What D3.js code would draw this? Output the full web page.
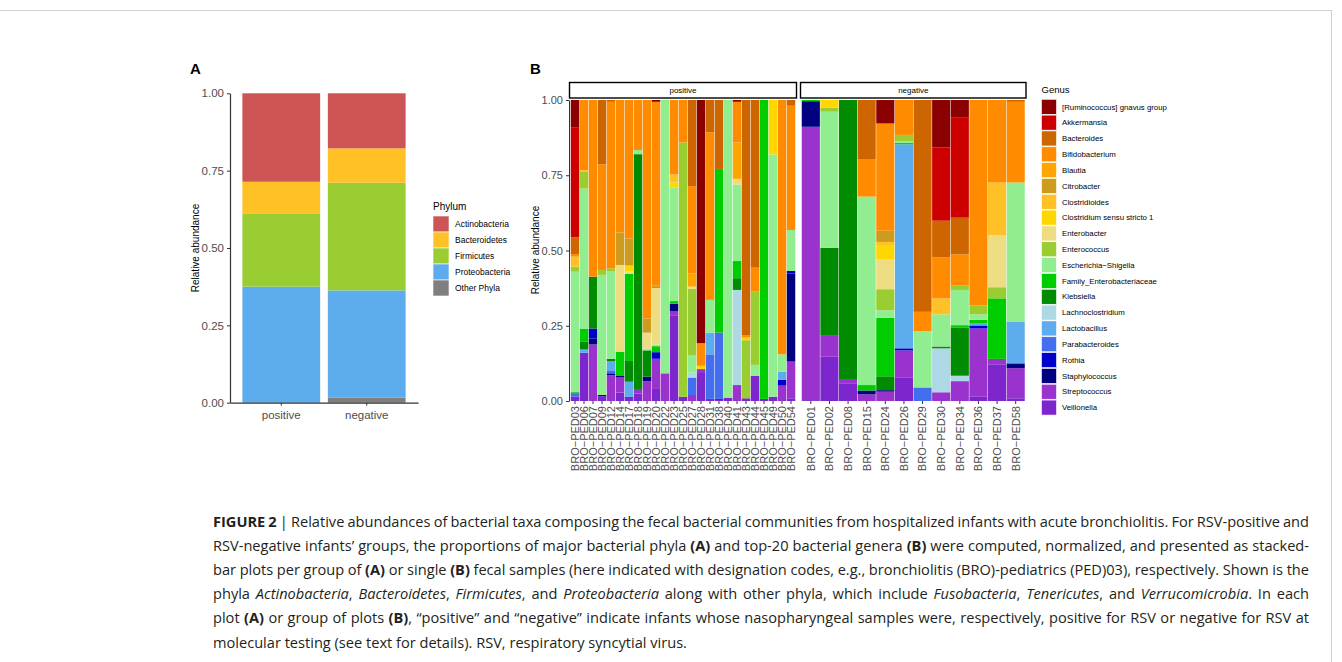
<!DOCTYPE html>
<html lang="en">
<head>
<meta charset="UTF-8">
<title>Figure 2 - fecal bacterial communities</title>
<script src="https://d3js.org/d3.v7.min.js"></script>
<style>
  body { margin: 0; background: #fff; }
  svg { display: block; }
  .axis text { font-family: "Liberation Sans", Arial, sans-serif; fill: #4d4d4d; }
  .axis path, .axis line { stroke: #333; }
</style>
</head>
<body>
<svg id="fig" width="1342" height="662"></svg>
<script>
// ---- panel A data: phylum proportions per group ----
const groups = ["positive", "negative"];
const phyla = ["Actinobacteria", "Bacteroidetes", "Firmicutes", "Proteobacteria", "Other Phyla"];
const phylumColors = ["#CD5555", "#FFC125", "#9ACD32", "#5CACEE", "#7F7F7F"];
const phylumPositive = [0.286, 0.102, 0.237, 0.375, 0.0];
const phylumNegative = [0.178, 0.111, 0.348, 0.347, 0.016];

// ---- panel B data: top-20 genera per sample ----
const genera = ["[Ruminococcus] gnavus group", "Akkermansia", "Bacteroides", "Bifidobacterium", "Blautia",
  "Citrobacter", "Clostridioides", "Clostridium sensu stricto 1", "Enterobacter", "Enterococcus",
  "Escherichia\u2212Shigella", "Family_Enterobacteriaceae", "Klebsiella", "Lachnoclostridium", "Lactobacillus",
  "Parabacteroides", "Rothia", "Staphylococcus", "Streptococcus", "Veillonella"];
const genusKeys = ["Rum", "Akk", "Bac", "Bif", "Bla", "Cit", "Cld", "Css", "Ebt", "Ecc",
  "Esh", "Fam", "Kle", "Lcl", "Lcb", "Par", "Rot", "Sta", "Str", "Vei"];
const genusColors = ["#8B0000", "#CD0000", "#CD6600", "#FF8C00", "#FFA500",
  "#CD9B1D", "#FFC125", "#FFD700", "#EEDC82", "#9ACD32",
  "#90EE90", "#00CD00", "#008B00", "#ADD8E6", "#5CACEE",
  "#436EEE", "#0000CD", "#000080", "#9A32CD", "#7D26CD"];

const positiveSamples = ["PED03", "PED06", "PED07", "PED09", "PED12", "PED14", "PED17", "PED18", "PED19",
  "PED20", "PED22", "PED23", "PED25", "PED27", "PED28", "PED31", "PED38", "PED40", "PED41", "PED43",
  "PED44", "PED45", "PED49", "PED50", "PED54"];
const negativeSamples = ["PED01", "PED02", "PED08", "PED15", "PED24", "PED26", "PED29", "PED30",
  "PED34", "PED36", "PED37", "PED58"];

const positiveAbund = [
  {Rum: .092, Akk: .364, Bac: .055, Bif: .009, Cld: .033, Ecc: .017, Esh: .40, Kle: .003, Par: .012, Vei: .014},
  {Bif: .233, Cld: .006, Ecc: .055, Esh: .466, Fam: .041, Kle: .027, Lcb: .011, Vei: .16},
  {Bif: .587, Kle: .172, Rot: .033, Sta: .02, Str: .188},
  {Bac: .214, Bif: .351, Ecc: .016, Esh: .399, Rot: .005, Vei: .015},
  {Bac: .006, Bif: .553, Ecc: .011, Esh: .29, Kle: .008, Lcb: .03, Par: .01, Sta: .006, Str: .086},
  {Bif: .44, Cit: .108, Ebt: .288, Fam: .081, Sta: .005, Str: .05, Vei: .028},
  {Bif: .46, Cit: .09, Css: .02, Ebt: .008, Fam: .289, Kle: .069, Lcb: .05, Rot: .003, Vei: .011},
  {Bif: .166, Esh: .014, Kle: .783, Str: .012, Vei: .025},
  {Bif: .725, Cit: .047, Ebt: .053, Esh: .006, Kle: .087, Sta: .015, Str: .066},
  {Rum: .006, Bif: .609, Cit: .009, Ebt: .188, Esh: .005, Fam: .02, Rot: .022, Str: .10, Vei: .04},
  {Esh: .908, Str: .092},
  {Bif: .247, Cld: .027, Css: .017, Esh: .377, Fam: .009, Sta: .024, Str: .014, Vei: .285},
  {Bif: .141, Ecc: .845, Vei: .014},
  {Bac: .286, Bif: .29, Bla: .044, Ebt: .008, Ecc: .221, Esh: .057, Lcl: .016, Par: .058, Str: .02},
  {Rum: .808, Bif: .075, Css: .011, Str: .01, Vei: .096},
  {Bac: .107, Bif: .557, Esh: .109, Lcb: .072, Par: .148, Vei: .007},
  {Bac: .229, Fam: .544, Par: .22, Rot: .003, Vei: .004},
  {Esh: .989, Vei: .011},
  {Rum: .006, Bif: .135, Bla: .121, Ebt: .02, Esh: .253, Fam: .057, Kle: .039, Lcl: .316, Str: .053},
  {Bac: .781, Bif: .008, Css: .009, Ecc: .193, Vei: .009},
  {Bac: .557, Bif: .078, Ecc: .245, Esh: .036, Vei: .084},
  {Fam: .993, Vei: .007},
  {Css: .181, Esh: .805, Vei: .014},
  {Bif: .845, Esh: .058, Lcb: .027, Rot: .019, Str: .051},
  {Bac: .019, Bif: .413, Esh: .136, Rot: .008, Sta: .293, Str: .122, Vei: .009}
];
const negativeAbund = [
  {Fam: .004, Sta: .085, Str: .908, Vei: .003},
  {Css: .025, Ecc: .014, Esh: .452, Kle: .29, Str: .072, Vei: .147},
  {Kle: .927, Str: .014, Vei: .059},
  {Bac: .196, Bif: .125, Esh: .626, Fam: .018, Sta: .013, Str: .022},
  {Rum: .078, Bif: .356, Cit: .037, Cld: .013, Css: .044, Ebt: .10, Ecc: .07, Esh: .025, Fam: .194, Kle: .046, Sta: .005, Str: .031},
  {Bif: .116, Ecc: .02, Esh: .007, Fam: .004, Lcb: .678, Rot: .007, Str: .091, Vei: .077},
  {Bac: .703, Bif: .064, Esh: .187, Par: .045},
  {Rum: .158, Akk: .243, Bac: .122, Bif: .136, Cld: .053, Esh: .107, Kle: .006, Lcl: .146, Str: .029},
  {Rum: .059, Akk: .332, Bac: .122, Bif: .104, Ecc: .014, Esh: .117, Fam: .009, Kle: .159, Lcl: .018, Str: .066},
  {Bif: .683, Ecc: .029, Esh: .018, Fam: .013, Lcb: .006, Rot: .01, Str: .227, Vei: .014},
  {Bif: .274, Cld: .175, Ebt: .173, Ecc: .037, Fam: .201, Str: .018, Vei: .122},
  {Bac: .006, Bif: .268, Esh: .462, Lcb: .139, Sta: .016, Str: .10, Vei: .009}
];

// caption lines (b = bold, i = italic)
const caption = [
  [["FIGURE 2", "b"], [" | Relative abundances of bacterial taxa composing the fecal bacterial communities from hospitalized infants with acute bronchiolitis. For RSV-positive and", ""]],
  [["RSV-negative infants\u2019 groups, the proportions of major bacterial phyla ", ""], ["(A)", "b"], [" and top-20 bacterial genera ", ""], ["(B)", "b"], [" were computed, normalized, and presented as stacked-", ""]],
  [["bar plots per group of ", ""], ["(A)", "b"], [" or single ", ""], ["(B)", "b"], [" fecal samples (here indicated with designation codes, e.g., bronchiolitis (BRO)-pediatrics (PED)03), respectively. Shown is the", ""]],
  [["phyla ", ""], ["Actinobacteria", "i"], [", ", ""], ["Bacteroidetes", "i"], [", ", ""], ["Firmicutes", "i"], [", and ", ""], ["Proteobacteria", "i"], [" along with other phyla, which include ", ""], ["Fusobacteria", "i"], [", ", ""], ["Tenericutes", "i"], [", and ", ""], ["Verrucomicrobia", "i"], [". In each", ""]],
  [["plot ", ""], ["(A)", "b"], [" or group of plots ", ""], ["(B)", "b"], [", \u201cpositive\u201d and \u201cnegative\u201d indicate infants whose nasopharyngeal samples were, respectively, positive for RSV or negative for RSV at", ""]],
  [["molecular testing (see text for details). RSV, respiratory syncytial virus.", ""]]
];

const svg = d3.select("#fig");
const font = "'Liberation Sans', Arial, sans-serif";

// frame
svg.append("path").attr("d", "M0,10.5H1331.5V662").attr("fill", "none").attr("stroke", "#cfcfcf");

// ================= Panel A =================
const yA = d3.scaleLinear().domain([0, 1]).range([402.7, 93.3]);
const xA = d3.scaleBand().domain(groups).range([230, 418]).paddingInner(0.09).paddingOuter(0.145);

svg.append("text").attr("x", 190).attr("y", 74).attr("font-family", font)
  .attr("font-weight", "bold").attr("font-size", 15).text("A");

const phylumRows = [phylumPositive, phylumNegative].map((vals, gi) => {
  const row = {group: groups[gi]};
  phyla.forEach((p, i) => row[p] = vals[i]);
  return row;
});
const stackA = d3.stack().keys(phyla.slice().reverse())(phylumRows);
svg.append("g").selectAll("g").data(stackA).join("g")
  .attr("fill", d => phylumColors[phyla.indexOf(d.key)])
  .selectAll("rect").data(d => d).join("rect")
  .attr("x", d => xA(d.data.group))
  .attr("width", xA.bandwidth())
  .attr("y", d => yA(d[1]))
  .attr("height", d => yA(d[0]) - yA(d[1]));

svg.append("g").attr("class", "axis").attr("transform", "translate(230,0)")
  .call(d3.axisLeft(yA).tickValues([0, .25, .5, .75, 1]).tickFormat(d3.format(".2f")).tickSize(3).tickSizeOuter(0))
  .call(g => g.selectAll("text").attr("font-size", 11.5));
svg.append("g").attr("class", "axis").attr("transform", "translate(0,402.7)")
  .call(d3.axisBottom(xA).tickSize(3).tickSizeOuter(0))
  .call(g => g.selectAll("text").attr("font-size", 11.5).attr("dy", "0.9em"));
svg.selectAll(".axis .domain").attr("stroke-width", 1.2);

svg.append("text").attr("transform", "translate(199,248) rotate(-90)")
  .attr("text-anchor", "middle").attr("font-family", font).attr("font-size", 10).text("Relative abundance");

// legend A
const legA = svg.append("g").attr("transform", "translate(433,0)");
legA.append("text").attr("x", 0).attr("y", 210).attr("font-family", font).attr("font-size", 10).text("Phylum");
phyla.forEach((p, i) => {
  legA.append("rect").attr("x", 0).attr("y", 216 + i * 16).attr("width", 16).attr("height", 16)
    .attr("fill", phylumColors[i]).attr("stroke", "#fff").attr("stroke-width", 0.6);
  legA.append("text").attr("x", 22).attr("y", 224 + i * 16).attr("dy", "0.35em")
    .attr("font-family", font).attr("font-size", 8.5).text(p);
});

// ================= Panel B =================
const yB = d3.scaleLinear().domain([0, 1]).range([401, 100]);
svg.append("text").attr("x", 530).attr("y", 74).attr("font-family", font)
  .attr("font-weight", "bold").attr("font-size", 15).text("B");

const keysBottomUp = genusKeys.slice().reverse();
function drawPanel(samples, abund, x0, x1, stripLabel) {
  const rows = abund.map((a, i) => {
    const total = d3.sum(genusKeys, k => a[k] || 0);
    const r = {sample: "BRO\u2212" + samples[i]};
    genusKeys.forEach(k => r[k] = (a[k] || 0) / total);
    return r;
  });
  const x = d3.scaleBand().domain(rows.map(r => r.sample)).range([x0, x1]).padding(0);
  const stacked = d3.stack().keys(keysBottomUp)(rows);
  svg.append("g").selectAll("g").data(stacked).join("g")
    .attr("fill", d => genusColors[genusKeys.indexOf(d.key)])
    .selectAll("rect").data(d => d.filter(s => s[1] - s[0] > 0)).join("rect")
    .attr("x", d => x(d.data.sample) + 0.25)
    .attr("width", x.bandwidth() - 0.5)
    .attr("y", d => yB(d[1]))
    .attr("height", d => yB(d[0]) - yB(d[1]));
  // strip
  svg.append("rect").attr("x", x0 - 1).attr("y", 82.5).attr("width", x1 - x0 + 2).attr("height", 15.5)
    .attr("fill", "#fff").attr("stroke", "#000").attr("stroke-width", 1.4);
  svg.append("text").attr("x", (x0 + x1) / 2).attr("y", 90.5).attr("dy", "0.35em")
    .attr("text-anchor", "middle").attr("font-family", font).attr("font-size", 8).text(stripLabel);
  // x labels
  const ax = svg.append("g").attr("class", "axis").attr("transform", "translate(0,401)")
    .call(d3.axisBottom(x).tickSize(3).tickSizeOuter(0));
  ax.select(".domain").remove();
  ax.selectAll("text").attr("font-size", 11).attr("transform", "rotate(-90)")
    .attr("text-anchor", "end").attr("x", -5).attr("y", 0).attr("dy", "0.35em");
}
drawPanel(positiveSamples, positiveAbund, 570.5, 795.5, "positive");
drawPanel(negativeSamples, negativeAbund, 801.5, 1025, "negative");

svg.append("g").attr("class", "axis").attr("transform", "translate(569,0)")
  .call(d3.axisLeft(yB).tickValues([0, .25, .5, .75, 1]).tickFormat(d3.format(".2f")).tickSize(3).tickSizeOuter(0))
  .call(g => g.selectAll("text").attr("font-size", 11));
svg.append("text").attr("transform", "translate(539,250) rotate(-90)")
  .attr("text-anchor", "middle").attr("font-family", font).attr("font-size", 10).text("Relative abundance");

// legend B
const legB = svg.append("g").attr("transform", "translate(1041.5,0)");
legB.append("text").attr("x", 0).attr("y", 93).attr("font-family", font).attr("font-size", 9.5).text("Genus");
genera.forEach((g, i) => {
  legB.append("rect").attr("x", 0).attr("y", 99.3 + i * 15.83).attr("width", 15).attr("height", 15)
    .attr("fill", genusColors[i]).attr("stroke", "#fff").attr("stroke-width", 0.6);
  legB.append("text").attr("x", 20.5).attr("y", 106.8 + i * 15.83).attr("dy", "0.35em")
    .attr("font-family", font).attr("font-size", 7.8).text(g);
});

// ================= Caption =================
const capX = 213, capRight = 1309;
caption.forEach((segs, li) => {
  const t = svg.append("text").attr("x", capX).attr("y", 527 + li * 24.1)
    .attr("font-family", "'Open Sans', 'Noto Sans', sans-serif").attr("font-size", 14.6).attr("fill", "#231f20");
  segs.forEach(([txt, st]) => {
    t.append("tspan").text(txt)
      .attr("font-weight", st === "b" ? "bold" : null)
      .attr("font-style", st === "i" ? "italic" : null);
  });
  if (li < caption.length - 1) {
    const len = t.node().getComputedTextLength();
    const spaces = segs.map(s => s[0]).join("").split(" ").length - 1;
    t.attr("word-spacing", (capRight - capX - len) / spaces);
  }
});
</script>
</body>
</html>
